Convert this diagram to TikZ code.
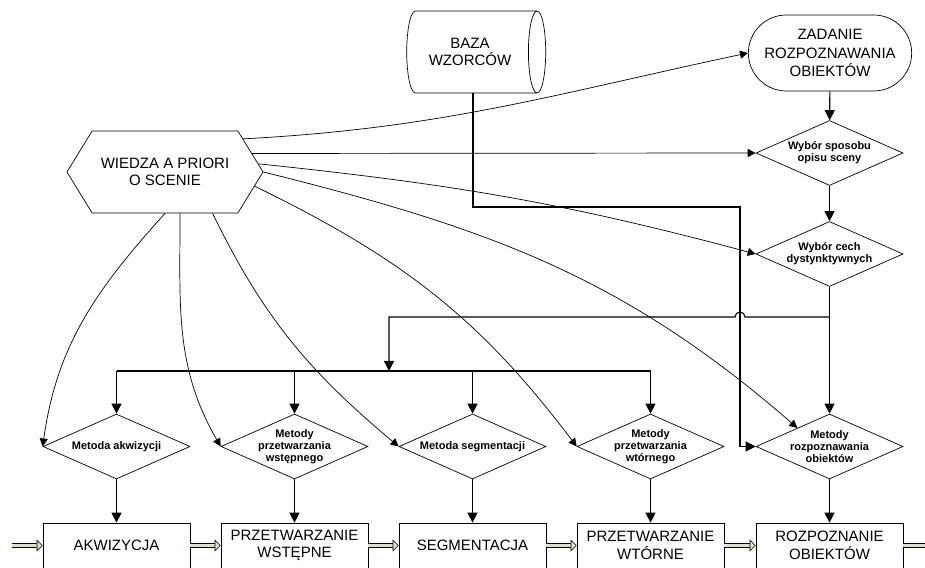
\documentclass[tikz,border=0pt]{standalone}
\usepackage{fontspec}
\setmainfont{Liberation Sans}
\usetikzlibrary{arrows.meta,shapes.geometric,shapes.misc,shapes.symbols}

\definecolor{strzalka}{RGB}{221,226,199}

\begin{document}
\begin{tikzpicture}[x=1pt,y=1pt,
  napis/.style={align=center,font=\fontsize{15}{17.5}\selectfont},
  blok/.style={napis,draw,line width=0.7pt,rectangle,minimum width=147pt,minimum height=45pt,inner sep=2pt},
  decyzja/.style={draw,line width=0.7pt,diamond,aspect=2.26,minimum width=147pt,minimum height=65pt,inner sep=-2pt,align=center,font=\fontsize{11}{12}\selectfont\bfseries},
  arr/.style={line width=1.1pt,-{Triangle[length=10pt,width=10pt]}},
  wpl/.style={line width=0.7pt,-{Triangle[length=8pt,width=8pt]}},
  przeplyw/.style={line width=0.6pt,double=strzalka,double distance=3.4pt,-{Triangle[open,fill=strzalka,length=6pt,width=12pt,line width=0.6pt]}}]
\useasboundingbox (0,0) rectangle (925,567);

\node(wiedza)[napis,signal,signal to=east and west,signal pointer angle=117,draw,line width=0.7pt,minimum width=196pt,minimum height=82pt] at (165,395) {WIEDZA A PRIORI\\O SCENIE};
\node(baza)[napis,cylinder,aspect=0.5,draw,line width=0.7pt,minimum width=82pt,minimum height=139pt] at (470,515) {BAZA\\WZORCÓW};
\node(zad)[napis,rounded rectangle,draw,line width=0.7pt,minimum width=170pt,minimum height=76pt,font=\fontsize{15}{18.5}\selectfont] at (830,514) {ZADANIE\\ROZPOZNAWANIA\\OBIEKTÓW};
\node(wsp)[decyzja] at (829.5,414) {Wybór sposobu\\opisu sceny};
\node(wcech)[decyzja] at (829.5,313) {Wybór cech\\dystynktywnych};

\node(makw)[decyzja] at (116.5,120.5) {Metoda akwizycji};
\node(mwst)[decyzja] at (294.5,120.5) {Metody\\przetwarzania\\wstępnego};
\node(mseg)[decyzja] at (472.5,120.5) {Metoda segmentacji};
\node(mwt)[decyzja] at (650.5,120.5) {Metody\\przetwarzania\\wtórnego};
\node(mrozp)[decyzja] at (829.5,120.5) {Metody\\rozpoznawania\\obiektów};

\node(akw)[blok] at (116.5,21.5) {AKWIZYCJA};
\node(wst)[blok] at (294.5,21.5) {PRZETWARZANIE\\WSTĘPNE};
\node(seg)[blok] at (472.5,21.5) {SEGMENTACJA};
\node(wt)[blok] at (650.5,21.5) {PRZETWARZANIE\\WTÓRNE};
\node(rozp)[blok] at (829.5,21.5) {ROZPOZNANIE\\OBIEKTÓW};

\coordinate (zakret) at (740,360);
\coordinate (odgal) at (829.5,250);
\coordinate (szyna) at (389,196);
\coordinate (wejscie) at (12,21.5);
\coordinate (wyjscie) at (940,21.5);

% glowny ciag przetwarzania
\foreach \a/\b in {wejscie/akw,akw/wst,wst/seg,seg/wt,wt/rozp,rozp/wyjscie}
  \draw [przeplyw] (\a) -- (\b);
\foreach \m/\b in {makw/akw,mwst/wst,mseg/seg,mwt/wt,mrozp/rozp}
  \draw [arr] (\m.south) -- (\b.north);

\draw [arr] (zad) -- (wsp);
\draw [arr] (wsp) -- (wcech);
\draw [arr] (wcech) -- (mrozp);
\draw [arr] ([xshift=3pt]baza.south) |- (zakret) |- (mrozp.west);
\draw [arr] (odgal) -- ([xshift=5pt]zakret |- odgal) arc[start angle=0,end angle=180,radius=5pt] -- (szyna |- odgal) -- (szyna);
\draw [line width=1.1pt] (makw.north |- szyna) -- (mwt.north |- szyna);
\foreach \m in {makw,mwst,mseg,mwt}
  \draw [arr] (\m.north |- szyna) -- (\m.north);

% wiedza a priori
\draw [wpl] (wiedza.23) to[out=3,in=192] (zad.west);
\draw [wpl] (wiedza.12.5) -- (wsp.west);
\draw [wpl] (wiedza.5.6) to[out=-6,in=165] (wcech.west);
\draw [wpl] (wiedza.east) to[out=-14,in=139] (mrozp.150);
\draw [wpl] (wiedza.-9.5) to[out=-26,in=127] (mwt.west);
\draw [wpl] (wiedza.-41) to[out=-64,in=140] (mseg.west);
\draw [wpl] (wiedza.-70) to[out=-90,in=120] (mwst.west);
\draw [wpl] (wiedza.south) to[out=-132,in=82] (makw.west);
\end{tikzpicture}
\end{document}
